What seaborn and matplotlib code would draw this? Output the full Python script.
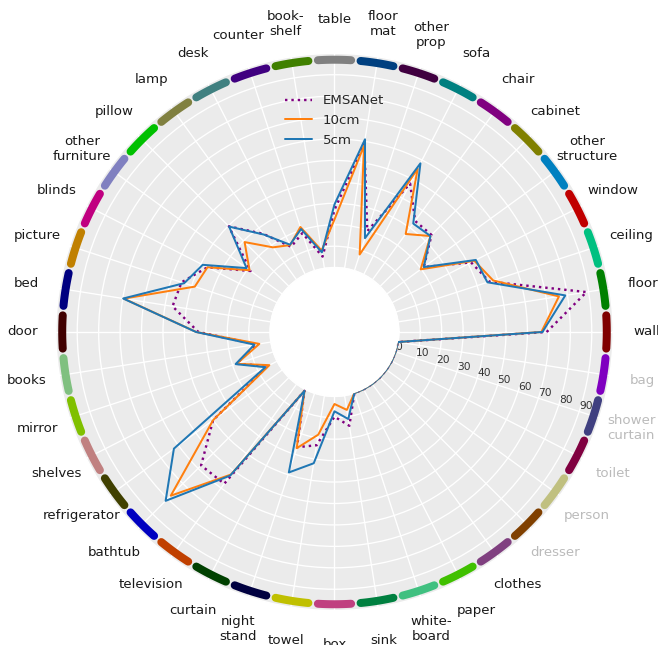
import numpy as np
import matplotlib
matplotlib.use("Agg")
import matplotlib.pyplot as plt
import seaborn as sns
from matplotlib.patches import Circle

# NYUv2 40 classes, in drawing order (counter-clockwise from 0 degrees)
categories = [
    "wall", "floor", "ceiling", "window", "other\nstructure", "cabinet", "chair",
    "sofa", "other\nprop", "floor\nmat", "table", "book-\nshelf", "counter", "desk",
    "lamp", "pillow", "other\nfurniture", "blinds", "picture", "bed", "door",
    "books", "mirror", "shelves", "refrigerator", "bathtub", "television",
    "curtain", "night\nstand", "towel", "box", "sink", "white-\nboard", "paper",
    "clothes", "dresser", "person", "toilet", "shower\ncurtain", "bag",
]

# classes that do not occur in the evaluation data (label drawn in grey)
absent_classes = ["dresser", "person", "toilet", "shower\ncurtain", "bag"]

# per-class IoU (%)
emsanet = [69.0, 89.0, 46.0, 41.5, 21.5, 34.0, 34.0, 47.7, 19.5, 59.0,
           27.0, 5.6, 18.5, 14.6, 26.6, 39.7, 18.4, 36.5, 45.0, 46.5,
           33.5, 7.0, 18.0, 5.0, 40.0, 58.0, 57.5, 0.8, 26.5, 23.5,
           9.5, 14.3, 0.0, 0.0, 0.0, 0.0, 0.0, 0.0, 0.0, 0.0]
iou_10cm = [66.5, 76.0, 47.8, 43.2, 19.7, 33.3, 26.5, 55.5, 8.0, 58.0,
            22.5, 8.5, 21.5, 15.5, 18.8, 29.3, 19.0, 36.5, 38.5, 69.5,
            34.5, 5.5, 18.0, 4.1, 40.0, 78.0, 52.2, 0.8, 27.0, 18.5,
            3.6, 6.8, 0.0, 0.0, 0.0, 0.0, 0.0, 0.0, 0.0, 0.0]
iou_5cm = [67.0, 79.0, 45.0, 44.0, 21.5, 33.3, 32.5, 58.3, 16.0, 61.0,
           29.5, 7.6, 20.5, 15.7, 26.2, 39.5, 20.7, 39.0, 43.7, 69.8,
           34.6, 7.8, 18.5, 6.2, 62.6, 81.4, 52.8, 0.8, 38.9, 32.0,
           7.0, 11.1, 0.0, 0.0, 0.0, 0.0, 0.0, 0.0, 0.0, 0.0]

series_names = ["EMSANet", "10cm", "5cm"]

# NYUv2 class colours (RGB, 0-255) in the same order as categories
class_colors = [
    (128, 0, 0), (0, 128, 0), (0, 192, 128), (192, 0, 0), (0, 128, 192),
    (128, 128, 0), (128, 0, 128), (0, 128, 128), (64, 0, 64), (0, 64, 128),
    (128, 128, 128), (64, 128, 0), (64, 0, 128), (64, 128, 128), (128, 128, 64),
    (0, 192, 0), (128, 128, 192), (192, 0, 128), (192, 128, 0), (0, 0, 128),
    (64, 0, 0), (128, 192, 128), (128, 192, 0), (192, 128, 128), (64, 64, 0),
    (0, 0, 192), (192, 64, 0), (0, 64, 0), (0, 0, 64), (192, 192, 0),
    (192, 64, 128), (0, 128, 64), (64, 192, 128), (64, 192, 0), (128, 64, 128),
    (128, 64, 0), (192, 192, 128), (128, 0, 64), (64, 64, 128), (128, 0, 192),
]

sns.set_theme(style="darkgrid", rc={
    "axes.facecolor": "#EBEBEB",
    "grid.color": "white",
    "axes.edgecolor": "white",
})

DPI = 96
fig = plt.figure(figsize=(658 / DPI, 645 / DPI), dpi=DPI)
ax = fig.add_axes([0.0848, 0.0532, 0.8471, 0.8642], projection="polar")

n = len(categories)
theta = np.deg2rad(np.arange(n) * 360.0 / n)
theta_closed = np.append(theta, 2 * np.pi)

R_ORIGIN = -30
R_MAX = 100
ax.set_rorigin(R_ORIGIN)
ax.set_ylim(0, R_MAX)

# light disk filling the hole in the middle
hole = Circle((0.5, 0.5), 0.5 * (-R_ORIGIN) / (R_MAX - R_ORIGIN),
              transform=ax.transAxes, facecolor="#F4F4F4", edgecolor="none",
              zorder=1)
ax.add_artist(hole)

styles = [
    dict(color="purple", linestyle=":", linewidth=1.8),
    dict(color="#ff7f0e", linestyle="-", linewidth=1.5),
    dict(color="#1f77b4", linestyle="-", linewidth=1.5),
]
for name, vals, st in zip(series_names, [emsanet, iou_10cm, iou_5cm], styles):
    vals_closed = np.append(vals, vals[0])
    sns.lineplot(x=theta_closed, y=vals_closed, ax=ax, sort=False,
                 estimator=None, label=name, zorder=3, **st)

# coloured class arcs around the rim
half_w = np.deg2rad(3.5)
for t, c in zip(theta, class_colors):
    arc_t = np.linspace(t - half_w, t + half_w, 30)
    ax.plot(arc_t, np.full_like(arc_t, 97.0), color=np.array(c) / 255.0,
            linewidth=6, solid_capstyle="round", clip_on=False, zorder=4)

ax.set_xticks(theta)
ax.set_xticklabels(categories, fontsize=10)
for lbl, name in zip(ax.get_xticklabels(), categories):
    lbl.set_color("#BBBBBB" if name in absent_classes else "#1a1a1a")
ax.tick_params(axis="x", pad=12)

ax.set_yticks(np.arange(0, 100, 10))
ax.set_yticklabels([str(v) for v in range(0, 100, 10)], fontsize=8, color="#333333")
ax.set_rlabel_position(-18)
ax.set_xlabel("")
ax.set_ylabel("")

leg = ax.legend(loc="upper left", bbox_to_anchor=(280 / 658, 1 - 89 / 645),
                bbox_transform=fig.transFigure, borderaxespad=0, fontsize=10,
                frameon=False)

fig.savefig("out.png", dpi=DPI)
